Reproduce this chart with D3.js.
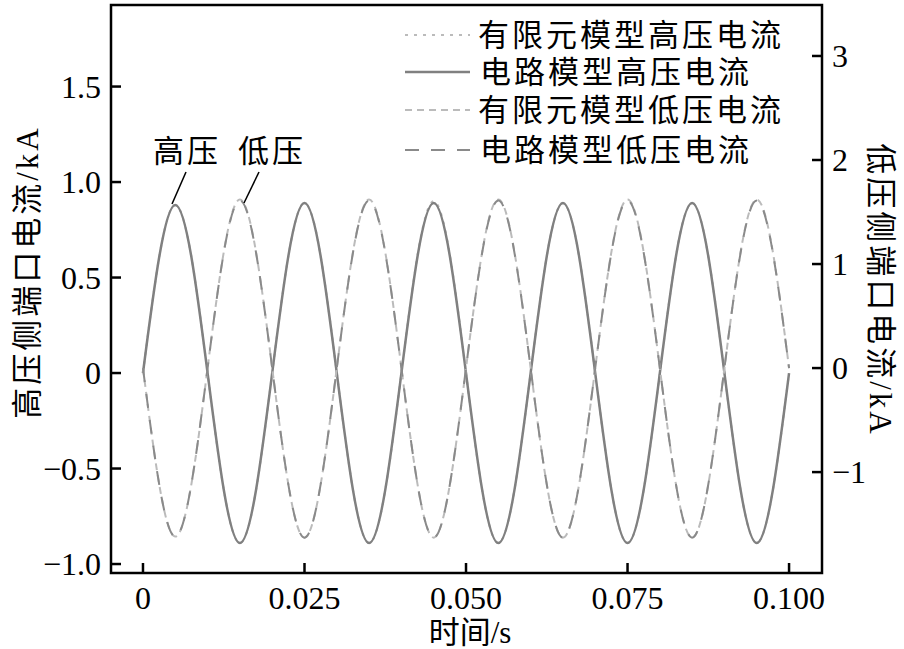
<!DOCTYPE html>
<html><head><meta charset="utf-8">
<script src="https://cdn.jsdelivr.net/npm/d3@7"></script>
<style>body{margin:0;background:#fff}text{font-family:"Liberation Serif","Noto Sans CJK SC",serif}</style>
</head><body><svg id="c" width="904" height="649"></svg>
<script>
// sample times: zero crossings and peaks, every quarter period (50 Hz)
const times = d3.range(0, 21).map(i => i * 0.005);
const hvFem  = [0, 0.88, 0, -0.89, 0, 0.89, 0, -0.89, 0, 0.90, 0, -0.89, 0, 0.89, 0, -0.89, 0, 0.89, 0, -0.89, 0];
const hvCir  = [0, 0.88, 0, -0.89, 0, 0.89, 0, -0.89, 0, 0.89, 0, -0.89, 0, 0.89, 0, -0.89, 0, 0.89, 0, -0.89, 0];
const lvFem  = [0, -1.62, 0, 1.62, 0, -1.63, 0, 1.62, 0, -1.63, 0, 1.62, 0, -1.63, 0, 1.62, 0, -1.63, 0, 1.62, 0];
const lvCir  = [0, -1.62, 0, 1.61, 0, -1.63, 0, 1.61, 0, -1.63, 0, 1.61, 0, -1.63, 0, 1.61, 0, -1.63, 0, 1.61, 0];
const xTicks = [0, 0.025, 0.050, 0.075, 0.100];
const xTickLabels = ['0', '0.025', '0.050', '0.075', '0.100'];
const yLeftTicks = [-1.0, -0.5, 0, 0.5, 1.0, 1.5];
const yLeftLabels = ['\u22121.0', '\u22120.5', '0', '0.5', '1.0', '1.5'];
const yRightTicks = [-1, 0, 1, 2, 3];
const yRightLabels = ['\u22121', '0', '1', '2', '3'];
const legendNames = ['有限元模型高压电流', '电路模型高压电流', '有限元模型低压电流', '电路模型低压电流'];

const L = 111, R = 822, T = 5, B = 573;
const svg = d3.select('#c');
const x = d3.scaleLinear().domain([-0.00495, 0.1051]).range([L, R]);
const yl = d3.scaleLinear().domain([-1.047, 1.927]).range([B, T]);
const yr = d3.scaleLinear().domain([-1.97, 3.49]).range([B, T]);

const series = [
  {v: hvFem, s: yl, c: '#bbb', d: '3,6', w: 2},
  {v: hvCir, s: yl, c: '#808080', d: null, w: 2.5},
  {v: lvFem, s: yr, c: '#bbb', d: '7,5', w: 2},
  {v: lvCir, s: yr, c: '#8a8a8a', d: '14,12', w: 2}
];
series.forEach(se => {
  const line = d3.line().x((d, i) => x(times[i])).y(d => se.s(d)).curve(d3.curveNatural);
  svg.append('path').attr('d', line(se.v)).attr('fill', 'none')
    .attr('stroke', se.c).attr('stroke-width', se.w).attr('stroke-dasharray', se.d);
});

// frame
svg.append('rect').attr('x', L).attr('y', T).attr('width', R - L).attr('height', B - T)
  .attr('fill', 'none').attr('stroke', '#000').attr('stroke-width', 2.5);

const fs = 32, cfs = 31;
xTicks.forEach((t, i) => {
  svg.append('line').attr('x1', x(t)).attr('x2', x(t)).attr('y1', B).attr('y2', B - 10).attr('stroke', '#000').attr('stroke-width', 2.5);
  svg.append('text').attr('x', x(t)).attr('y', B + 36).attr('text-anchor', 'middle').attr('font-size', fs).text(xTickLabels[i]);
});
yLeftTicks.forEach((t, i) => {
  svg.append('line').attr('x1', L).attr('x2', L + 10).attr('y1', yl(t)).attr('y2', yl(t)).attr('stroke', '#000').attr('stroke-width', 2.5);
  svg.append('text').attr('x', L - 10).attr('y', yl(t) + 11).attr('text-anchor', 'end').attr('font-size', fs).text(yLeftLabels[i]);
});
yRightTicks.forEach((t, i) => {
  svg.append('line').attr('x1', R).attr('x2', R - 10).attr('y1', yr(t)).attr('y2', yr(t)).attr('stroke', '#000').attr('stroke-width', 2.5);
  svg.append('text').attr('x', R + 10).attr('y', yr(t) + 11).attr('text-anchor', 'start').attr('font-size', fs).text(yRightLabels[i]);
});

svg.append('text').attr('x', 470).attr('y', 643).attr('text-anchor', 'middle').attr('font-size', cfs).text('时间/s');
svg.append('text').attr('transform', 'translate(38,272) rotate(-90)').attr('text-anchor', 'middle').attr('font-size', cfs).attr('letter-spacing', 3).text('高压侧端口电流/kA');
svg.append('text').attr('transform', 'translate(870,290) rotate(90)').attr('text-anchor', 'middle').attr('font-size', cfs).attr('letter-spacing', 3).text('低压侧端口电流/kA');

// legend
const ly = [35, 72, 110, 150];
series.forEach((se, i) => {
  svg.append('line').attr('x1', 405).attr('x2', 470).attr('y1', ly[i]).attr('y2', ly[i])
    .attr('stroke', se.c).attr('stroke-width', se.w).attr('stroke-dasharray', se.d);
  svg.append('text').attr('x', 478 + (i % 2) * 2).attr('y', ly[i] + 11).attr('font-size', cfs).attr('letter-spacing', 3).text(legendNames[i]);
});

// annotations
svg.append('text').attr('x', 153).attr('y', 162).attr('font-size', cfs).attr('letter-spacing', 3).text('高压');
svg.append('text').attr('x', 238).attr('y', 162).attr('font-size', cfs).attr('letter-spacing', 3).text('低压');
svg.append('line').attr('x1', 186).attr('y1', 172).attr('x2', 172).attr('y2', 204).attr('stroke', '#000').attr('stroke-width', 1.5);
svg.append('line').attr('x1', 259).attr('y1', 172).attr('x2', 244).attr('y2', 203).attr('stroke', '#000').attr('stroke-width', 1.5);
</script></body></html>
